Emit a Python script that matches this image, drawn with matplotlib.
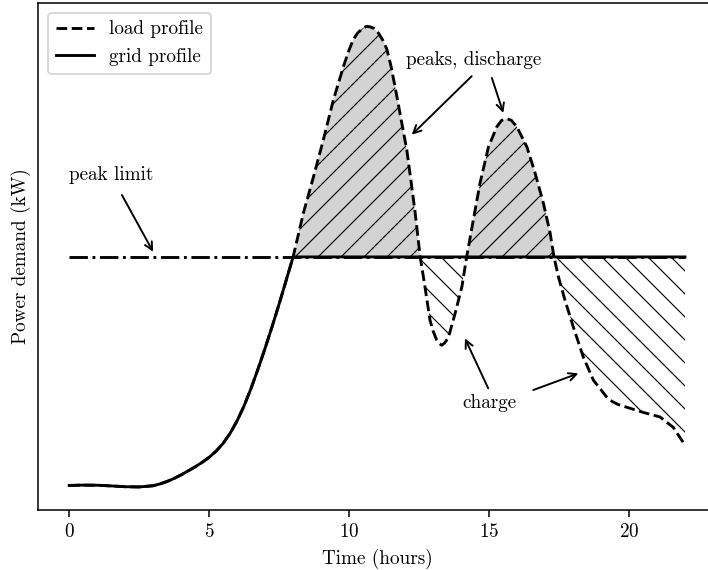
import numpy as np
import matplotlib
matplotlib.use("Agg")
import matplotlib.pyplot as plt

plt.rcParams['font.family'] = ['cmr10', 'DejaVu Serif']
plt.rcParams['mathtext.fontset'] = 'cm'
plt.rcParams['axes.formatter.use_mathtext'] = True
plt.rcParams['font.size'] = 10
plt.rcParams['hatch.linewidth'] = 0.6

# load profile (hours, kW)
hours = np.array([
    0.0, 0.5, 1.0, 1.5, 2.0, 2.5, 3.0, 3.25, 3.5, 3.75, 4.0, 4.25, 4.5,
    4.75, 5.0, 5.25, 5.5, 5.75, 6.0, 6.25, 6.5, 6.75, 7.0, 7.25, 7.5, 7.75,
    8.0, 8.37, 8.73, 9.08, 9.44, 9.8, 9.97, 10.15, 10.3, 10.5, 10.63, 10.75,
    10.9, 11.05, 11.2, 11.35, 11.5, 11.64, 11.88, 12.06, 12.24, 12.36,
    12.47, 12.54, 12.71, 12.89, 13.0, 13.13, 13.22, 13.31, 13.43, 13.55,
    13.79, 14.03, 14.2, 14.44, 14.68, 14.98, 15.28, 15.45, 15.63, 15.8,
    15.99, 16.35, 16.64, 16.94, 17.18, 17.32, 17.48, 17.71, 18.01, 18.37,
    18.73, 19.2, 19.4, 19.6, 19.92, 20.51, 21.11, 21.58, 22.0])
load = np.array([
    10.17, 10.23, 10.21, 10.09, 9.95, 9.91, 10.12, 10.44, 10.87, 11.40,
    12.01, 12.71, 13.41, 14.19, 15.07, 16.16, 17.51, 19.26, 21.44, 24.06,
    27.12, 30.52, 34.10, 37.86, 41.79, 45.89, 50.0, 57.7, 64.0, 70.4, 77.4,
    83.2, 85.7, 87.9, 89.0, 89.9, 90.2, 90.1, 89.8, 89.0, 87.8, 86.2, 83.2,
    79.7, 73.4, 68.7, 62.2, 57.7, 53.0, 50.0, 44.8, 39.0, 37.1, 35.5, 34.9,
    34.6, 35.1, 36.0, 40.2, 44.8, 50.0, 56.5, 62.9, 69.2, 72.7, 73.8, 74.1,
    73.8, 72.7, 69.2, 64.7, 59.4, 54.2, 50.0, 46.5, 42.5, 37.8, 32.5, 28.5,
    25.6, 24.8, 24.3, 23.8, 22.9, 22.1, 20.3, 17.2])
limit = 50.0
battery_start = 8.0  # hour the load first reaches the limit

grid = np.where(hours < battery_start, load, limit)

fig = plt.figure(figsize=(708 / 138, 570 / 138), dpi=138)
ax = fig.add_axes([0.0542, 0.1053, 0.9568, 0.889])

# shaded areas
ax.fill_between(hours, load, limit, where=load >= limit, interpolate=True,
                facecolor='lightgray', hatch='//', edgecolor='black',
                linewidth=0, zorder=1)
ax.fill_between(hours, load, limit,
                where=(hours >= battery_start) & (load <= limit),
                interpolate=True, facecolor='none', hatch='\\\\',
                edgecolor='black', linewidth=0, zorder=1)

ax.plot([hours[0], hours[-1]], [limit, limit], color='black',
        linestyle='-.', linewidth=1.5, zorder=2)
ax.plot(hours, load, color='black', linestyle='--', linewidth=1.5,
        label='load profile', zorder=3)
ax.plot(hours, grid, color='black', linestyle='-', linewidth=1.5,
        label='grid profile', zorder=3)

arrow = dict(arrowstyle='->', color='black', lw=1.0, shrinkA=0, shrinkB=0)

# peak limit
ax.annotate('peak limit', xy=(3.0, 50.9), xytext=(1.5, 64.2),
            ha='center', va='center', arrowprops=dict(arrowstyle='->',
            color='black', lw=1.0, shrinkA=4, shrinkB=0))

# peaks, discharge
ax.text(14.44, 84.4, 'peaks, discharge', ha='center', va='center')
ax.annotate('', xy=(12.24, 71.3), xytext=(14.38, 81.5), arrowprops=arrow)
ax.annotate('', xy=(15.51, 75.1), xytext=(15.1, 81.2), arrowprops=arrow)

# charge
ax.text(15.0, 24.5, 'charge', ha='center', va='center')
ax.annotate('', xy=(14.14, 35.8), xytext=(14.97, 27.1), arrowprops=arrow)
ax.annotate('', xy=(18.19, 29.7), xytext=(16.58, 26.8), arrowprops=arrow)

ax.set_xticks([0, 5, 10, 15, 20])
ax.set_yticks([])
ax.set_xlabel('Time (hours)')
ax.set_ylabel('Power demand (kW)')
ax.legend(loc='upper left')

fig.savefig('out.png', dpi=138)
